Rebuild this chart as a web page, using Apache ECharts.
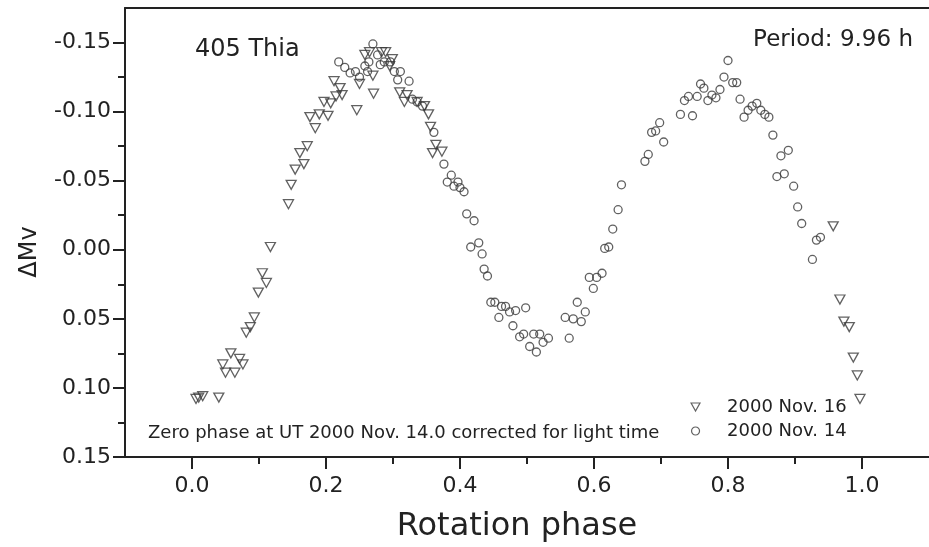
<!DOCTYPE html>
<html>
<head>
<meta charset="utf-8">
<script src="https://cdn.jsdelivr.net/npm/echarts@6/dist/echarts.min.js"></script>
<style>
html,body{margin:0;padding:0;background:#fff;}
#chart{width:929px;height:547px;}
</style>
</head>
<body>
<div id="chart"></div>
<script>
// ---- Data ----
const nov16Phase = [0.006,0.010,0.016,0.040,0.046,0.050,0.064,0.058,0.071,0.076,0.081,0.087,0.093,0.099,0.105,0.111,0.117,0.144,0.148,0.154,0.161,0.167,0.172,0.184,0.176,0.190,0.203,0.197,0.207,0.215,0.224,0.221,0.212,0.246,0.250,0.271,0.270,0.258,0.265,0.283,0.289,0.299,0.295,0.310,0.317,0.321,0.336,0.347,0.353,0.356,0.359,0.364,0.373,0.957,0.967,0.973,0.981,0.987,0.993,0.997];
const nov16Mag = [0.108,0.107,0.106,0.107,0.083,0.089,0.089,0.075,0.079,0.083,0.060,0.056,0.049,0.031,0.017,0.024,-0.002,-0.033,-0.047,-0.058,-0.070,-0.062,-0.075,-0.088,-0.096,-0.098,-0.097,-0.107,-0.106,-0.111,-0.112,-0.117,-0.122,-0.101,-0.120,-0.113,-0.126,-0.141,-0.143,-0.143,-0.143,-0.138,-0.133,-0.114,-0.107,-0.112,-0.107,-0.104,-0.098,-0.089,-0.070,-0.076,-0.071,-0.017,0.036,0.052,0.056,0.078,0.091,0.108];

const nov14Phase = [0.270,0.219,0.228,0.236,0.244,0.250,0.258,0.264,0.262,0.277,0.281,0.287,0.296,0.302,0.311,0.307,0.324,0.329,0.336,0.344,0.361,0.376,0.387,0.381,0.391,0.397,0.400,0.406,0.410,0.421,0.428,0.416,0.433,0.436,0.441,0.446,0.452,0.458,0.462,0.468,0.474,0.483,0.498,0.479,0.489,0.495,0.510,0.519,0.532,0.524,0.504,0.514,0.557,0.569,0.581,0.587,0.575,0.563,0.593,0.599,0.604,0.612,0.616,0.622,0.628,0.636,0.641,0.676,0.681,0.686,0.692,0.698,0.704,0.729,0.747,0.735,0.741,0.754,0.759,0.764,0.770,0.776,0.782,0.788,0.794,0.800,0.807,0.813,0.818,0.824,0.830,0.836,0.843,0.849,0.855,0.861,0.867,0.879,0.890,0.873,0.884,0.898,0.904,0.910,0.932,0.938,0.926];
const nov14Mag = [-0.149,-0.136,-0.132,-0.128,-0.129,-0.125,-0.133,-0.136,-0.129,-0.141,-0.134,-0.136,-0.136,-0.129,-0.129,-0.123,-0.122,-0.109,-0.107,-0.104,-0.085,-0.062,-0.054,-0.049,-0.046,-0.049,-0.045,-0.042,-0.026,-0.021,-0.005,-0.002,0.003,0.014,0.019,0.038,0.038,0.049,0.041,0.041,0.045,0.044,0.042,0.055,0.063,0.061,0.061,0.061,0.064,0.067,0.070,0.074,0.049,0.050,0.052,0.045,0.038,0.064,0.020,0.028,0.020,0.017,-0.001,-0.002,-0.015,-0.029,-0.047,-0.064,-0.069,-0.085,-0.086,-0.092,-0.078,-0.098,-0.097,-0.108,-0.111,-0.111,-0.120,-0.117,-0.108,-0.112,-0.110,-0.116,-0.125,-0.137,-0.121,-0.121,-0.109,-0.096,-0.101,-0.104,-0.106,-0.101,-0.098,-0.096,-0.083,-0.068,-0.072,-0.053,-0.055,-0.046,-0.031,-0.019,-0.007,-0.009,0.007];

const xMajorTicks = [0.0,0.2,0.4,0.6,0.8,1.0];
const xMinorTicks = [0.1,0.3,0.5,0.7,0.9];
const yMajorTicks = [-0.15,-0.10,-0.05,0.00,0.05,0.10,0.15];
const yMinorTicks = [-0.125,-0.075,-0.025,0.025,0.075,0.125];

const seriesNames = ['2000 Nov. 16','2000 Nov. 14'];
const titleText = '405 Thia';
const periodText = 'Period: 9.96 h';
const noteText = 'Zero phase at UT 2000 Nov. 14.0 corrected for light time';
const xTitle = 'Rotation phase';
const yTitle = '\u0394Mv';

// ---- Chart ----
const FONT = '"DejaVu Sans", Verdana, sans-serif';
const INK = '#222222';
const MARK = '#3a3a3a';
const chart = echarts.init(document.getElementById('chart'), null, {renderer:'canvas'});

const pairs = (xs, ys) => xs.map((x, i) => [x, ys[i]]);
const X_MIN = -0.1, X_MAX = 1.1, Y_MIN = -0.175, Y_MAX = 0.15;

const hiddenLabel = {show:false};
const option = {
  animation: false,
  backgroundColor: '#fff',
  textStyle: {fontFamily: FONT},
  grid: {left:125, top:8, right:-6, bottom:90, containLabel:false},
  xAxis: [
    {type:'value', position:'bottom', min:X_MIN, max:X_MAX,
     axisLine:{show:true, onZero:false, lineStyle:{color:INK, width:2}},
     axisTick:{show:true, inside:false, length:12, lineStyle:{color:INK, width:2}, customValues:xMajorTicks},
     axisLabel:{show:true, customValues:xMajorTicks, margin:18, fontSize:22, color:INK, fontFamily:FONT,
                formatter:(v)=>Number(v).toFixed(1)},
     splitLine:{show:false}},
    {type:'value', position:'bottom', min:X_MIN, max:X_MAX,
     axisLine:{show:false, onZero:false},
     axisTick:{show:true, inside:false, length:7, lineStyle:{color:INK, width:2}, customValues:xMinorTicks},
     axisLabel:hiddenLabel, splitLine:{show:false}},
    {type:'value', position:'top', min:X_MIN, max:X_MAX,
     axisLine:{show:true, onZero:false, lineStyle:{color:INK, width:2}},
     axisTick:{show:false}, axisLabel:hiddenLabel, splitLine:{show:false}}
  ],
  yAxis: [
    {type:'value', position:'left', inverse:true, min:Y_MIN, max:Y_MAX,
     axisLine:{show:true, onZero:false, lineStyle:{color:INK, width:2}},
     axisTick:{show:true, inside:false, length:12, lineStyle:{color:INK, width:2}, customValues:yMajorTicks},
     axisLabel:{show:true, customValues:yMajorTicks, margin:14, fontSize:22, color:INK, fontFamily:FONT,
                formatter:(v)=>Number(v).toFixed(2)},
     splitLine:{show:false}},
    {type:'value', position:'left', inverse:true, min:Y_MIN, max:Y_MAX,
     axisLine:{show:false, onZero:false},
     axisTick:{show:true, inside:false, length:7, lineStyle:{color:INK, width:2}, customValues:yMinorTicks},
     axisLabel:hiddenLabel, splitLine:{show:false}}
  ],
  legend: {
    show:true, orient:'vertical', left:685.5, top:393,
    itemWidth:9, itemHeight:8, itemGap:6,
    selectedMode:false,
    textStyle:{fontSize:18, color:INK, fontFamily:FONT, lineHeight:18, padding:[0,0,0,22]},
    itemStyle:{color:'rgba(0,0,0,0)', borderColor:MARK, borderWidth:1.2},
    data:[
      {name:seriesNames[0], icon:'path://M0,0L10,0L5,9Z'},
      {name:seriesNames[1], icon:'circle'}
    ]
  },
  series: [
    {name:seriesNames[0], type:'scatter', xAxisIndex:0, yAxisIndex:0,
     data:pairs(nov16Phase, nov16Mag),
     symbol:'triangle', symbolRotate:180, symbolSize:[10,9],
     itemStyle:{color:'rgba(0,0,0,0)', borderColor:MARK, borderWidth:1.3}},
    {name:seriesNames[1], type:'scatter', xAxisIndex:0, yAxisIndex:0,
     data:pairs(nov14Phase, nov14Mag),
     symbol:'circle', symbolSize:8,
     itemStyle:{color:'rgba(0,0,0,0)', borderColor:MARK, borderWidth:1.3}}
  ],
  graphic: [
    {type:'text', left:195, top:38, style:{text:titleText, fontSize:24, fill:INK, fontFamily:FONT}},
    {type:'text', right:16, top:29, style:{text:periodText, fontSize:23, fill:INK, fontFamily:FONT}},
    {type:'text', left:148, top:424, style:{text:noteText, fontSize:18, fill:INK, fontFamily:FONT}},
    {type:'text', x:517, y:527, style:{text:xTitle, fontSize:32, fill:INK, fontFamily:FONT, align:'center', verticalAlign:'middle'}},
    {type:'text', x:30, y:252, rotation:Math.PI/2, style:{text:yTitle, fontSize:24, fill:INK, fontFamily:FONT, align:'center', verticalAlign:'middle'}}
  ]
};
chart.setOption(option);
</script>
</body>
</html>
